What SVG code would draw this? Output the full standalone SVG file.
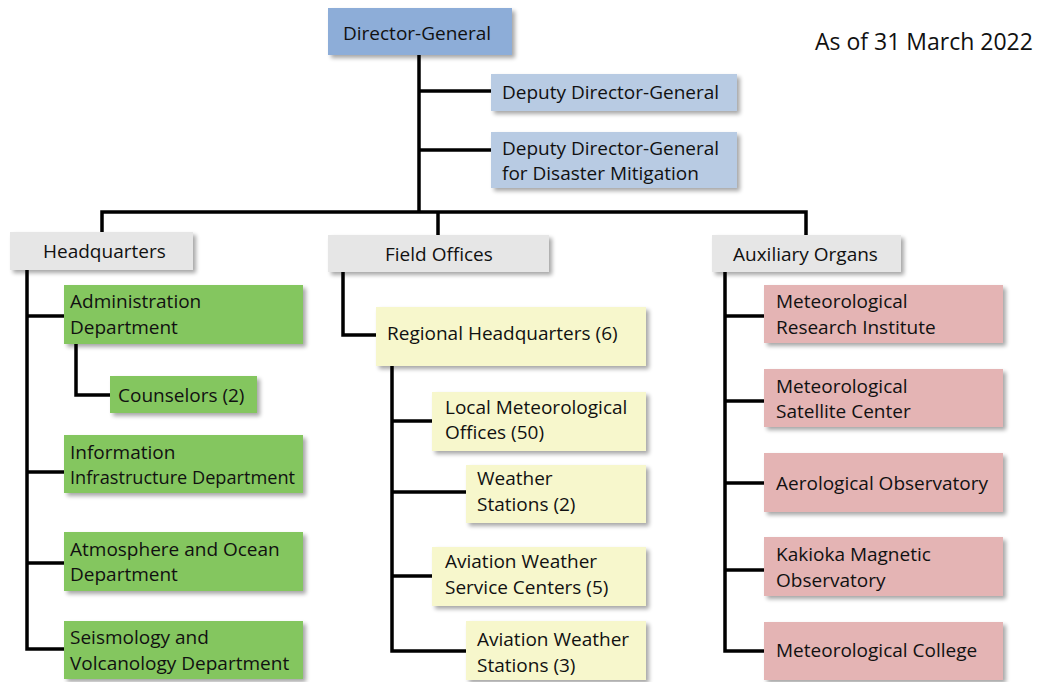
<svg xmlns="http://www.w3.org/2000/svg" width="1042" height="682" viewBox="0 0 1042 682">
  <defs>
    <filter id="shadow" x="-10%" y="-20%" width="130%" height="160%">
      <feGaussianBlur in="SourceAlpha" stdDeviation="2"/>
      <feOffset dx="3" dy="3" result="b"/>
      <feComponentTransfer><feFuncA type="linear" slope="0.35"/></feComponentTransfer>
      <feMerge><feMergeNode/><feMergeNode in="SourceGraphic"/></feMerge>
    </filter>
  </defs>
  <style>
    text { font-family: "Open Sans", "Liberation Sans", sans-serif; font-size: 19px; fill: #111; }
    .box { filter: url(#shadow); }
    .dg { fill: #8DADD8; }
    .dep { fill: #B8CBE3; }
    .grp { fill: #E6E6E6; }
    .hq { fill: #84C65E; }
    .fo { fill: #F7F7CC; }
    .ax { fill: #E4B4B4; }
    #connectors path { fill: none; stroke: #000; stroke-width: 3.5; stroke-linejoin: miter; }
    .stamp { font-size: 23px; }
  </style>
  <rect width="1042" height="682" fill="#fff"/>

  <g id="connectors">
    <!-- top trunk and deputies -->
    <path d="M419 55 V212"/>
    <path d="M419 91 H491"/>
    <path d="M419 150 H491"/>
    <!-- bus to the three groups -->
    <path d="M102 233 V212 H806 V236"/>
    <path d="M438 212 V236"/>
    <!-- Headquarters -->
    <path d="M27 270 V649 H64"/>
    <path d="M27 316 H64"/>
    <path d="M27 472 H64"/>
    <path d="M27 563 H64"/>
    <path d="M76 344 V395 H110"/>
    <!-- Field Offices -->
    <path d="M343 272 V335 H376"/>
    <path d="M392 366 V651 H466"/>
    <path d="M392 421 H432"/>
    <path d="M392 492 H466"/>
    <path d="M392 576 H432"/>
    <!-- Auxiliary Organs -->
    <path d="M725 272 V651 H764"/>
    <path d="M725 316 H764"/>
    <path d="M725 401 H764"/>
    <path d="M725 483 H764"/>
    <path d="M725 570 H764"/>
  </g>

  <g id="director-general">
    <rect class="box dg" x="328" y="8" width="184" height="47"/>
    <text x="343" y="40">Director-General</text>
  </g>
  <g id="deputy-dg">
    <rect class="box dep" x="491" y="74" width="246" height="37"/>
    <text x="502" y="99">Deputy Director-General</text>
  </g>
  <g id="deputy-dg-disaster">
    <rect class="box dep" x="491" y="132" width="246" height="56"/>
    <text x="502" y="155">Deputy Director-General</text>
    <text x="502" y="180">for Disaster Mitigation</text>
  </g>
  <text class="stamp" x="815" y="50">As of 31 March 2022</text>

  <g id="headquarters">
    <rect class="box grp" x="10" y="232" width="183" height="38"/>
    <text x="43" y="258">Headquarters</text>
  </g>
  <g id="field-offices">
    <rect class="box grp" x="328" y="235" width="221" height="37"/>
    <text x="385" y="261">Field Offices</text>
  </g>
  <g id="auxiliary-organs">
    <rect class="box grp" x="712" y="235" width="189" height="37"/>
    <text x="733" y="261">Auxiliary Organs</text>
  </g>

  <g id="administration">
    <rect class="box hq" x="64" y="285" width="239" height="59"/>
    <text x="70" y="308">Administration</text>
    <text x="70" y="334">Department</text>
  </g>
  <g id="counselors">
    <rect class="box hq" x="110" y="376" width="147" height="37"/>
    <text x="118" y="402">Counselors (2)</text>
  </g>
  <g id="information-infrastructure">
    <rect class="box hq" x="64" y="435" width="239" height="58"/>
    <text x="70" y="459">Information</text>
    <text x="70" y="484" textLength="225" lengthAdjust="spacingAndGlyphs">Infrastructure Department</text>
  </g>
  <g id="atmosphere-ocean">
    <rect class="box hq" x="64" y="532" width="239" height="59"/>
    <text x="70" y="556">Atmosphere and Ocean</text>
    <text x="70" y="581">Department</text>
  </g>
  <g id="seismology-volcanology">
    <rect class="box hq" x="64" y="621" width="239" height="58"/>
    <text x="70" y="644">Seismology and</text>
    <text x="70" y="670">Volcanology Department</text>
  </g>

  <g id="regional-hq">
    <rect class="box fo" x="376" y="307" width="270" height="59"/>
    <text x="387" y="340">Regional Headquarters (6)</text>
  </g>
  <g id="local-met-offices">
    <rect class="box fo" x="432" y="392" width="214" height="59"/>
    <text x="445" y="414">Local Meteorological</text>
    <text x="445" y="439">Offices (50)</text>
  </g>
  <g id="weather-stations">
    <rect class="box fo" x="466" y="465" width="180" height="58"/>
    <text x="477" y="485">Weather</text>
    <text x="477" y="511">Stations (2)</text>
  </g>
  <g id="aviation-service-centers">
    <rect class="box fo" x="432" y="547" width="214" height="59"/>
    <text x="445" y="568">Aviation Weather</text>
    <text x="445" y="594">Service Centers (5)</text>
  </g>
  <g id="aviation-stations">
    <rect class="box fo" x="466" y="621" width="180" height="59"/>
    <text x="477" y="646">Aviation Weather</text>
    <text x="477" y="672">Stations (3)</text>
  </g>

  <g id="met-research-institute">
    <rect class="box ax" x="764" y="285" width="239" height="58"/>
    <text x="776" y="308">Meteorological</text>
    <text x="776" y="334">Research Institute</text>
  </g>
  <g id="met-satellite-center">
    <rect class="box ax" x="764" y="369" width="239" height="58"/>
    <text x="776" y="393">Meteorological</text>
    <text x="776" y="418">Satellite Center</text>
  </g>
  <g id="aerological-observatory">
    <rect class="box ax" x="764" y="453" width="239" height="59"/>
    <text x="776" y="490">Aerological Observatory</text>
  </g>
  <g id="kakioka-observatory">
    <rect class="box ax" x="764" y="537" width="239" height="59"/>
    <text x="776" y="561">Kakioka Magnetic</text>
    <text x="776" y="587">Observatory</text>
  </g>
  <g id="met-college">
    <rect class="box ax" x="764" y="622" width="239" height="58"/>
    <text x="776" y="657">Meteorological College</text>
  </g>
</svg>
